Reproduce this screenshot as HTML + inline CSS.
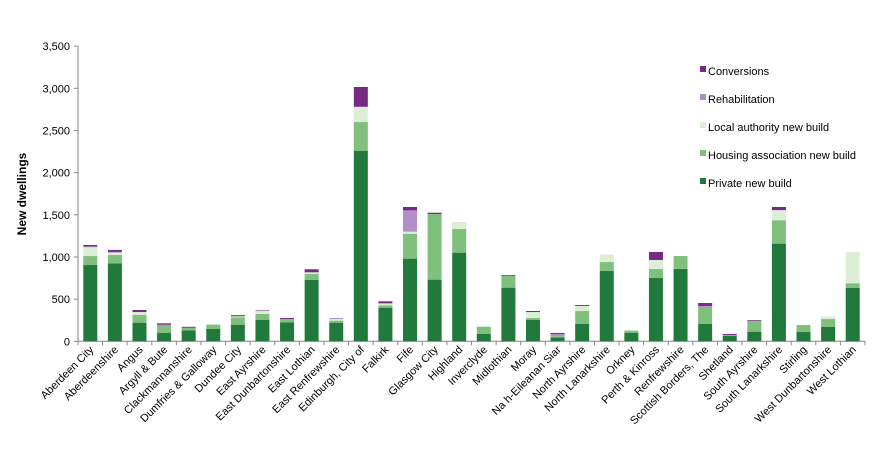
<!DOCTYPE html>
<html><head><meta charset="utf-8"><style>
body{margin:0;background:#fff;font-family:"Liberation Sans",Arial,sans-serif}
svg text{font-family:"Liberation Sans",Arial,sans-serif;fill:#000}
</style></head><body>
<svg id="chart" width="884" height="448"></svg>
<script>
const categories=["Aberdeen City","Aberdeenshire","Angus","Argyll & Bute","Clackmannanshire","Dumfries & Galloway","Dundee City","East Ayrshire","East Dunbartonshire","East Lothian","East Renfrewshire","Edinburgh, City of","Falkirk","Fife","Glasgow City","Highland","Inverclyde","Midlothian","Moray","Na h-Eileanan Siar","North Ayrshire","North Lanarkshire","Orkney","Perth & Kinross","Renfrewshire","Scottish Borders, The","Shetland","South Ayrshire","South Lanarkshire","Stirling","West Dunbartonshire","West Lothian"];
const privateNew=[908,925,221,102,130,146,197,256,225,727,221,2260,399,980,731,1051,90,636,256,47,205,834,102,751,858,205,63,114,1158,110,170,632];
const housingAssoc=[103,98,94,79,31,51,88,68,39,71,24,340,28,296,779,281,83,142,20,12,154,106,24,107,153,202,12,130,278,83,94,56];
const localAuth=[104,28,32,0,0,8,12,35,0,20,19,178,23,24,0,83,0,0,71,0,60,91,12,106,0,0,0,0,120,0,32,371];
const rehab=[10,9,0,16,0,0,0,13,0,0,12,4,0,253,0,0,0,0,0,28,0,0,0,0,0,12,0,0,0,0,0,0];
const conversions=[17,23,24,16,11,0,13,0,12,36,0,234,24,40,15,0,0,8,12,12,11,0,0,95,0,35,12,8,37,0,0,0];
const seriesNames=["Private new build","Housing association new build","Local authority new build","Rehabilitation","Conversions"];
const yTicks=[0,500,1000,1500,2000,2500,3000,3500];
const colors=["#217a3c","#80bf7c","#dcefd6","#af8fc6","#762a83"];
const series=[privateNew,housingAssoc,localAuth,rehab,conversions];
const svg=document.getElementById('chart');const NS='http://www.w3.org/2000/svg';
function mk(t,a,p){const e=document.createElementNS(NS,t);for(const k in a)e.setAttribute(k,a[k]);(p||svg).appendChild(e);return e;}
const x0=78,x1=865,y0=341.3,yMax=3500,pxPer=0.08433;
const band=(x1-x0)/categories.length,bw=14;
function y(v){return y0-v*pxPer;}
function xc(i){return x0+band*(i+0.5);}
// y axis
const ya=mk('g',{});

mk('line',{x1:x0,y1:y(yMax),x2:x0,y2:y0,stroke:'#868686'},ya);
yTicks.forEach(t=>{mk('line',{x1:x0-4,y1:y(t),x2:x0,y2:y(t),stroke:'#868686'},ya);
const tx=mk('text',{x:x0-8,y:y(t)+4,'text-anchor':'end','font-size':'11'},ya);

tx.textContent=t.toLocaleString('en-US');});
const yt=mk('text',{x:0,y:0,'font-size':'12','font-weight':'bold','text-anchor':'middle',transform:'translate(26,194) rotate(-90)'});

yt.textContent='New dwellings';
// x axis
const xa=mk('g',{});

mk('line',{x1:x0,y1:y0,x2:x1,y2:y0,stroke:'#868686'},xa);
for(let i=0;i<=categories.length;i++){mk('line',{x1:x0+band*i,y1:y0,x2:x0+band*i,y2:y0+4,stroke:'#868686'},xa);}
categories.forEach((c,i)=>{const cx=xc(i)+4,cy=y0+9;
const t=mk('text',{x:cx,y:cy,'text-anchor':'end','font-size':'11',transform:`rotate(-45 ${cx} ${cy})`},xa);

t.textContent=c;});
// bars
categories.forEach((c,i)=>{let acc=0;
const g=mk('g',{});

series.forEach((s,k)=>{const v=s[i];if(v<=0)return;
const r=mk('rect',{x:xc(i)-bw/2,y:y(acc+v),width:bw,height:v*pxPer,fill:colors[k]},g);

acc+=v;});});
// legend
const lg=mk('g',{});

const ly=[183,155,127,99,71];
seriesNames.forEach((n,k)=>{const e=mk('g',{},lg);

mk('rect',{x:700,y:ly[k]-5,width:6,height:6,fill:colors[k]},e);
const t=mk('text',{x:708,y:ly[k]+4,'font-size':'11'},e);
t.textContent=n;});
</script>
</body></html>
